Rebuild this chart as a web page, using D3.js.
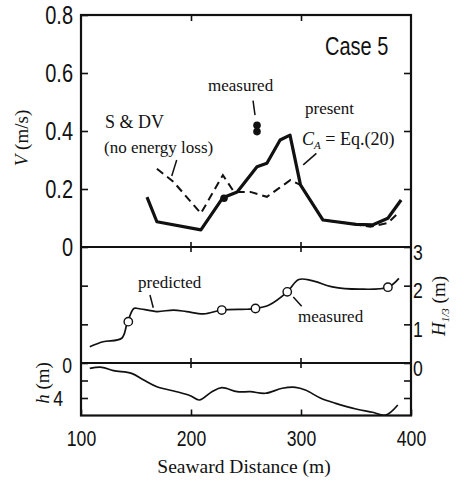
<!DOCTYPE html>
<html>
<head>
<meta charset="utf-8">
<script src="https://cdn.jsdelivr.net/npm/d3@7"></script>
<style>
body { margin: 0; background: #fff; }
</style>
</head>
<body>
<script>
/* DATA */

// top panel: depth-averaged velocity V (m/s)
var presentDist = [160, 169, 209, 229, 242, 260, 269, 281, 290, 299.5, 320, 350, 365, 379, 391];
var presentVal  = [0.172, 0.087, 0.059, 0.17, 0.19, 0.277, 0.289, 0.369, 0.386, 0.214, 0.093, 0.078, 0.076, 0.099, 0.162];
var sdvDist = [169, 184, 209, 229, 239, 254, 269, 280, 290.5, 299.5, 320, 350, 363, 379, 388];
var sdvVal  = [0.27, 0.225, 0.116, 0.248, 0.19, 0.19, 0.173, 0.203, 0.231, 0.214, 0.093, 0.078, 0.07, 0.083, 0.116];
var vMeasDist = [230, 260, 260];
var vMeasVal  = [0.168, 0.42, 0.398];

// middle panel: wave height H1/3 (m)
var hPredDist = [108, 120, 137, 142, 148, 152, 169, 184, 196, 211.5, 228, 251, 259, 271, 287.5, 298, 310, 328.5, 353, 379, 389];
var hPredVal  = [0.42, 0.55, 0.64, 1.03, 1.41, 1.41, 1.33, 1.37, 1.33, 1.27, 1.37, 1.39, 1.41, 1.5, 1.84, 2.16, 2.13, 1.97, 1.91, 1.96, 2.19];
var hMeasDist = [143, 228, 258.6, 287.5, 379];
var hMeasVal  = [1.07, 1.37, 1.41, 1.84, 1.96];

// bottom panel: water depth h (m)
var depthDist = [108, 119, 129.5, 146, 157, 169, 187, 199.4, 207.6, 219, 228, 242, 254, 267.7, 283, 295, 304, 318, 331.5, 350, 365, 377, 388];
var depthVal  = [0.61, 0.49, 0.88, 1.18, 1.94, 2.71, 3.28, 3.74, 4.23, 3.28, 2.82, 3.28, 3.28, 3.46, 2.89, 2.78, 3.09, 4.03, 4.61, 5.26, 5.63, 5.95, 4.8];

// ticks
var xTicks = [100, 200, 300, 400];
var vTicks = [0, 0.2, 0.4, 0.6, 0.8];
var hTicks = [0, 1, 2, 3];
var depthTicks = [2, 4];


/* STYLE */
var ink = '#111';
var serif = '"Liberation Serif", "Times New Roman", serif';
var sans = '"Liberation Sans", Arial, sans-serif';
var squeeze = 0.8;   // tick digits in the original are a condensed face

var width = 457;
var height = 480;

var left = 81, right = 411;
var topY = 15, split1 = 247, split2 = 363, bottomY = 415.5;


/* SCALES */
const x = d3.scaleLinear().domain([100, 400]).range([left, right]);
const yV = d3.scaleLinear().domain([0, 0.8]).range([split1, topY]);
const yH = d3.scaleLinear().domain([0, 3]).range([split2, split1]);
const yD = d3.scaleLinear().domain([0, 6]).range([split2, bottomY]);

const svg = d3.select('body').append('svg')
    .attr('width', width)
    .attr('height', height);

svg.append('rect')
    .attr('width', width).attr('height', height)
    .attr('fill', '#fff');

// axis helper: strip domain path, style ticks + condensed labels
function styleAxis(g, fontSize) {
    g.select('.domain').remove();
    g.selectAll('line').attr('stroke', ink).attr('stroke-width', 1.6);
    g.selectAll('text')
        .attr('fill', ink)
        .style('font-family', sans)
        .style('font-size', fontSize + 'px')
        .each(function () {
            const t = d3.select(this);
            const xx = +t.attr('x') || 0;
            t.attr('x', xx / squeeze).attr('transform', `scale(${squeeze},1)`);
        });
}

/* AXES (inward ticks) */
const fmtV = d => d === 0 ? '0' : d3.format('.1f')(d);

svg.append('g')
    .attr('transform', `translate(${left},0)`)
    .call(d3.axisLeft(yV).tickValues(vTicks).tickSizeInner(-7).tickSizeOuter(0).tickPadding(8).tickFormat(fmtV))
    .call(g => styleAxis(g, 25));

svg.append('g')
    .attr('transform', `translate(${right},0)`)
    .call(d3.axisRight(yV).tickValues([0.2, 0.4, 0.6]).tickSizeInner(-7).tickSizeOuter(0).tickFormat(''))
    .call(g => styleAxis(g, 25));

svg.append('g')
    .attr('transform', `translate(${left},0)`)
    .call(d3.axisLeft(yH).tickValues([0, 1, 2]).tickSizeInner(-7).tickSizeOuter(0).tickPadding(9)
        .tickFormat(d => d === 0 ? '0' : ''))
    .call(g => styleAxis(g, 22))
    .selectAll('text').attr('dy', '0.45em');

svg.append('g')
    .attr('transform', `translate(${right},0)`)
    .call(d3.axisRight(yH).tickValues(hTicks).tickSizeInner(-7).tickSizeOuter(0).tickPadding(2).tickFormat(d3.format('d')))
    .call(g => styleAxis(g, 22))
    .selectAll('text').attr('dy', '0.55em');

svg.append('g')
    .attr('transform', `translate(${left},0)`)
    .call(d3.axisLeft(yD).tickValues(depthTicks).tickSizeInner(-7).tickSizeOuter(0).tickPadding(18)
        .tickFormat(d => d === 4 ? '4' : ''))
    .call(g => styleAxis(g, 22));

svg.append('g')
    .attr('transform', `translate(${right},0)`)
    .call(d3.axisRight(yD).tickValues(depthTicks).tickSizeInner(-7).tickSizeOuter(0).tickFormat(''))
    .call(g => styleAxis(g, 22));

svg.append('g')
    .attr('transform', `translate(0,${bottomY})`)
    .call(d3.axisBottom(x).tickValues(xTicks).tickSizeInner(-6).tickSizeOuter(0).tickPadding(15).tickFormat(d3.format('d')))
    .call(g => styleAxis(g, 22));

svg.append('g')
    .attr('transform', `translate(0,${topY})`)
    .call(d3.axisTop(x).tickValues([200, 300]).tickSizeInner(-6).tickSizeOuter(0).tickFormat(''))
    .call(g => styleAxis(g, 22));

// ticks crossing the panel dividers
[split1, split2].forEach(yy => {
    svg.append('g').selectAll('line')
        .data([200, 300])
        .join('line')
        .attr('x1', d => x(d)).attr('x2', d => x(d))
        .attr('y1', yy - 5).attr('y2', yy + 5)
        .attr('stroke', ink).attr('stroke-width', 1.6);
});

/* FRAME */
svg.append('rect')
    .attr('x', left).attr('y', topY)
    .attr('width', right - left).attr('height', bottomY - topY)
    .attr('fill', 'none').attr('stroke', ink).attr('stroke-width', 2.2);

svg.selectAll('.divider')
    .data([split1, split2])
    .join('line')
    .attr('class', 'divider')
    .attr('x1', left).attr('x2', right)
    .attr('y1', d => d).attr('y2', d => d)
    .attr('stroke', ink).attr('stroke-width', 2.2);

/* TOP PANEL LINES */
const vLine = d3.line()
    .x(d => x(d[0]))
    .y(d => yV(d[1]));

svg.append('path')
    .attr('d', vLine(d3.zip(sdvDist, sdvVal)))
    .attr('fill', 'none').attr('stroke', ink)
    .attr('stroke-width', 2).attr('stroke-dasharray', '8,5');

svg.append('path')
    .attr('d', vLine(d3.zip(presentDist, presentVal)))
    .attr('fill', 'none').attr('stroke', ink)
    .attr('stroke-width', 3.2).attr('stroke-linejoin', 'round');

svg.append('g').selectAll('circle')
    .data(d3.zip(vMeasDist, vMeasVal))
    .join('circle')
    .attr('cx', d => x(d[0])).attr('cy', d => yV(d[1]))
    .attr('r', 3.8).attr('fill', ink);

/* MIDDLE PANEL */
const hLine = d3.line()
    .x(d => x(d[0]))
    .y(d => yH(d[1]))
    .curve(d3.curveCatmullRom.alpha(0.5));

svg.append('path')
    .attr('d', hLine(d3.zip(hPredDist, hPredVal)))
    .attr('fill', 'none').attr('stroke', ink).attr('stroke-width', 1.7);

svg.append('g').selectAll('circle')
    .data(d3.zip(hMeasDist, hMeasVal))
    .join('circle')
    .attr('cx', d => x(d[0])).attr('cy', d => yH(d[1]))
    .attr('r', 4.2).attr('fill', '#fff')
    .attr('stroke', ink).attr('stroke-width', 1.4);

/* BOTTOM PANEL */
const dLine = d3.line()
    .x(d => x(d[0]))
    .y(d => yD(d[1]))
    .curve(d3.curveCatmullRom.alpha(0.5));

svg.append('path')
    .attr('d', dLine(d3.zip(depthDist, depthVal)))
    .attr('fill', 'none').attr('stroke', ink).attr('stroke-width', 1.7);

/* ANNOTATIONS */
function leader(x1, y1, x2, y2) {
    svg.append('line')
        .attr('x1', x1).attr('y1', y1).attr('x2', x2).attr('y2', y2)
        .attr('stroke', ink).attr('stroke-width', 1.5);
}
function label(tx, ty, str, size) {
    return svg.append('text')
        .attr('x', tx).attr('y', ty)
        .attr('fill', ink)
        .style('font-family', serif)
        .style('font-size', size + 'px')
        .text(str);
}

svg.append('text')
    .attr('x', 325 / squeeze).attr('y', 55)
    .attr('transform', `scale(${squeeze},1)`)
    .attr('fill', ink)
    .style('font-family', sans).style('font-size', '25px')
    .text('Case 5');

label(208, 91, 'measured', 17);
leader(x(256.4), yV(0.505), x(258.2), yV(0.455));

label(105, 128, 'S & DV', 18);
label(104, 153, '(no energy loss)', 17);
leader(x(187), yV(0.30), x(182.5), yV(0.245));

label(305, 114, 'present', 17);
const ca = label(302, 145, '', 18);
ca.append('tspan').style('font-style', 'italic').text('C');
ca.append('tspan').attr('dy', 4).style('font-size', '11px').style('font-style', 'italic').text('A');
ca.append('tspan').attr('dy', -4).text(' = Eq.(20)');
leader(x(314), yV(0.323), x(302), yV(0.283));

label(138, 288, 'predicted', 17);
leader(x(162.7), yH(1.76), x(165.7), yH(1.43));

label(298, 322, 'measured', 17);
leader(x(293), yH(1.71), x(300.6), yH(1.47));

/* AXIS TITLES */
svg.append('text')
    .attr('x', 244).attr('y', 473)
    .attr('text-anchor', 'middle')
    .attr('fill', ink)
    .style('font-family', serif).style('font-size', '19.5px')
    .text('Seaward Distance (m)');

const vTitle = svg.append('text')
    .attr('transform', 'translate(28,138) rotate(-90)')
    .attr('text-anchor', 'middle')
    .attr('fill', ink)
    .style('font-family', serif).style('font-size', '19px');
vTitle.append('tspan').style('font-style', 'italic').text('V');
vTitle.append('tspan').text(' (m/s)');

const hTitle = svg.append('text')
    .attr('transform', 'translate(445,306) rotate(-90)')
    .attr('text-anchor', 'middle')
    .attr('fill', ink)
    .style('font-family', serif).style('font-size', '19px');
hTitle.append('tspan').style('font-style', 'italic').text('H');
hTitle.append('tspan').attr('dy', 4).style('font-size', '11px').style('font-style', 'italic').text('1/3');
hTitle.append('tspan').attr('dy', -4).text(' (m)');

const dTitle = svg.append('text')
    .attr('transform', 'translate(49,383) rotate(-90)')
    .attr('text-anchor', 'middle')
    .attr('fill', ink)
    .style('font-family', serif).style('font-size', '19px');
dTitle.append('tspan').style('font-style', 'italic').text('h');
dTitle.append('tspan').text(' (m)');
</script>
</body>
</html>
